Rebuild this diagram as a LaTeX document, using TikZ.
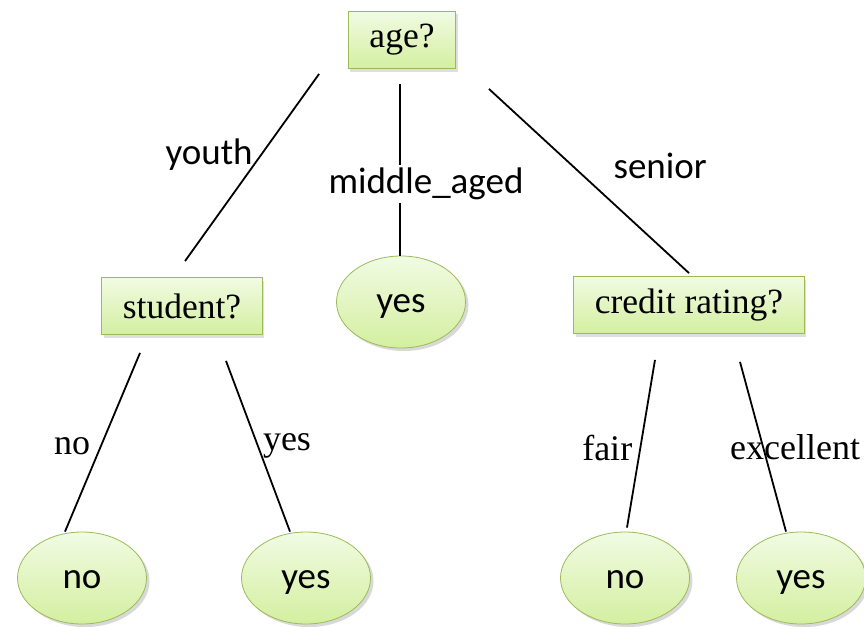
\documentclass[tikz,border=0pt]{standalone}
\usepackage{fontspec}
\setmainfont{Liberation Serif}
\newfontfamily\calfont{Carlito}
\usetikzlibrary{shapes.geometric,shadows}

\definecolor{leaftop}{HTML}{F1FBE3}
\definecolor{leafbot}{HTML}{D4EFA0}
\definecolor{leafrim}{HTML}{9BBB59}

\tikzset{
  testbox/.style = {rectangle, draw = leafrim, thick, top color = leaftop, bottom color = leafbot,
    minimum height = 57pt, inner xsep = 21pt, inner ysep = 0pt,
    font = \fontsize{35.5}{40}\selectfont,
    drop shadow = {shadow xshift = 2pt, shadow yshift = -3pt, opacity = 0.25}},
  leaf/.style = {ellipse, draw = leafrim, thick, top color = leaftop, bottom color = leafbot,
    minimum width = 129pt, minimum height = 92pt, inner sep = 0pt,
    text height = 26pt, text depth = 6pt,
    font = \calfont\fontsize{37}{40}\selectfont,
    drop shadow = {shadow xshift = 3pt, shadow yshift = -3pt, opacity = 0.3}},
  branch/.style = {line width = 1.8pt},
  sanslabel/.style = {font = \calfont\fontsize{37}{40}\selectfont, inner sep = 1pt, yshift = -4pt},
  seriflabel/.style = {font = \fontsize{36}{40}\selectfont, inner sep = 1pt}
}

\begin{document}
\begin{tikzpicture}[x = 1pt, y = -1pt]
	 \useasboundingbox (0, 0) rectangle (864, 626);
	 
	 % tests
	 \node[testbox] (age) at (402, 40) {age?};
	 \node[testbox] (student) at (182, 306) {student?};
	 \node[testbox] (credit) at (689, 305) {credit rating?};
	 
	 % leaves
	 \node[leaf] (midyes) at (401, 302) {yes};
	 \node[leaf] (stuno) at (82, 578) {no};
	 \node[leaf] (stuyes) at (306, 578) {yes};
	 \node[leaf] (crno) at (625, 578) {no};
	 \node[leaf] (cryes) at (801, 578) {yes};
	 
	 % branches from age?
	 \draw[branch] ([xshift = -29pt, yshift = -5pt]age.south west) -- ([xshift = 3pt, yshift = 16pt]student.north)
	   node[sanslabel, pos = 0.41, xshift = -55pt] {youth};
	 \draw[branch] ([xshift = -2pt, yshift = -15pt]age.south) -- ([xshift = -1pt]midyes.north)
	   node[sanslabel, pos = 0.56, xshift = 26pt, fill = white, inner ysep = 3pt] {middle\_aged};
	 \draw[branch] ([xshift = 33pt, yshift = -20pt]age.south east) -- ([yshift = 3pt]credit.north)
	   node[sanslabel, pos = 0.396, xshift = 92pt] {senior};
	 
	 % branches from student?
	 \draw[branch] ([xshift = -42pt, yshift = -18pt]student.south) -- ([xshift = -17pt]stuno.north)
	   node[seriflabel, pos = 0.52, xshift = -29pt] {no};
	 \draw[branch] ([xshift = 44pt, yshift = -26pt]student.south) -- ([xshift = -16pt]stuyes.north)
	   node[seriflabel, pos = 0.5, xshift = 29pt] {yes};
	 
	 % branches from credit rating?
	 \draw[branch] ([xshift = -34pt, yshift = -26pt]credit.south) -- ([xshift = 2pt, yshift = 4pt]crno.north)
	   node[seriflabel, pos = 0.527, xshift = -33pt] {fair};
	 \draw[branch] ([xshift = 51pt, yshift = -28pt]credit.south) -- ([xshift = -15pt]cryes.north)
	   node[seriflabel, pos = 0.5, xshift = 32pt] {excellent};
\end{tikzpicture}
\end{document}
